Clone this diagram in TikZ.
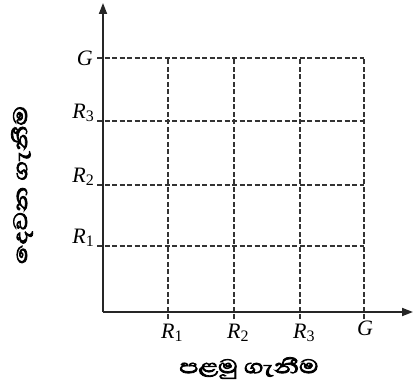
\documentclass[tikz,border=0pt]{standalone}
\usepackage{fontspec}
\setmainfont{Liberation Serif}
\newfontfamily\sinfont[Script=Sinhala,AutoFakeBold=3]{Abhaya Libre}
\usetikzlibrary{arrows.meta}
\newcommand{\lbl}[2]{\textit{#1}\raisebox{-0.35ex}{\fontsize{16}{16}\selectfont #2}}
\begin{document}
\begin{tikzpicture}[x=1pt,y=1pt,
  axis/.style={line width=1.8pt,draw=black!85,-{Triangle[length=11pt,width=8pt]}},
  gridline/.style={line width=1.4pt,draw=black!80,dash pattern=on 5pt off 2.5pt},
  lab/.style={font=\fontsize{22}{22}\selectfont,inner sep=0pt},
  sinlab/.style={font=\sinfont\bfseries\fontsize{25}{26}\selectfont,inner sep=0pt}]
\useasboundingbox (0,0) rectangle (419,381);
% origin
\coordinate (O) at (103,69);
\coordinate (Xend) at (413,69);
\coordinate (Yend) at (103,378);
% grid coordinates
\coordinate (x1b) at (168,62);
\coordinate (x2b) at (234,62);
\coordinate (x3b) at (300,62);
\coordinate (x4b) at (364,62);
\coordinate (x1t) at (168,323);
\coordinate (x2t) at (234,323);
\coordinate (x3t) at (300,323);
\coordinate (x4t) at (364,323);
\coordinate (y1a) at (97,135);
\coordinate (y2a) at (97,196);
\coordinate (y3a) at (97,260);
\coordinate (y4a) at (97,323);
\coordinate (y1e) at (364,135);
\coordinate (y2e) at (364,196);
\coordinate (y3e) at (364,260);
\coordinate (y4e) at (364,323);
% dashed grid
\foreach \i in {1,2,3,4}{
  \draw[gridline] (x\i b) -- (x\i t);
  \draw[gridline] (y\i a) -- (y\i e);
}
% axes
\draw[axis] (O) -- (Xend);
\draw[axis] (O) -- (Yend);
% labels x
\node[lab,anchor=base west] (lx1) at (161,43) {\lbl{R}{1}};
\node[lab,anchor=base west] (lx2) at (227,43) {\lbl{R}{2}};
\node[lab,anchor=base west] (lx3) at (293,43) {\lbl{R}{3}};
\node[lab,anchor=base] (lx4) at (365,46) {\textit{G}};
% labels y
\node[lab,anchor=base east] (ly1) at (94,138) {\lbl{R}{1}};
\node[lab,anchor=base east] (ly2) at (94,199) {\lbl{R}{2}};
\node[lab,anchor=base east] (ly3) at (94,263) {\lbl{R}{3}};
\node[lab,anchor=base east] (ly4) at (93,316) {\textit{G}};
% axis titles
\node[sinlab] (tx) at (249,13) {\scalebox{1.3}[1]{පළමු ගැනීම}};
\node[sinlab,rotate=90] (ty) at (22,196) {\scalebox{1.3}[1]{දෙවන ගැනීම}};
\end{tikzpicture}
\end{document}
